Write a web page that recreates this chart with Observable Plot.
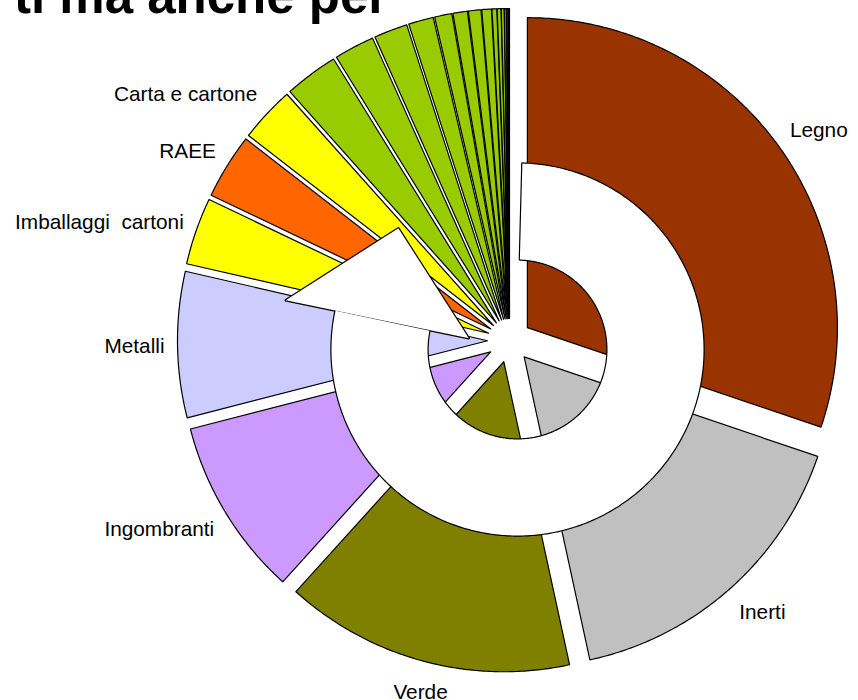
<!DOCTYPE html>
<html><head><meta charset="utf-8">
<script src="https://cdn.jsdelivr.net/npm/d3@7"></script>
<script src="https://cdn.jsdelivr.net/npm/@observablehq/plot@0.6"></script>
<style>
body{margin:0;background:#fff;}
#wrap{position:relative;width:858px;height:700px;overflow:hidden;background:#fff;}
#title{position:absolute;left:14px;top:-30px;font:bold 51px "Liberation Sans",Arial,sans-serif;line-height:51px;white-space:pre;color:#000;}
#chart text{white-space:pre;}
</style></head><body>
<div id="wrap"><div id="chart"></div><div id="title">ti ma anche per</div></div>
<script>
// Categories (clockwise from 12 o'clock); the unlabeled green slices are small fractions
const categories = ["Legno","Inerti","Verde","Ingombranti","Metalli","Imballaggi  cartoni","RAEE","Carta e cartone",
  "","","","","","","","","","","","","","",""];
// Shares (%)
const values = [30.2,16.4,15.1,9.3,7.6,3.5,3.4,2.9,
  2.8,2.1,1.75,1.3,0.9,0.75,0.65,0.5,0.25,0.2,0.15,0.1,0.08,0.05,0.02];
const colors = ["#993300","#C0C0C0","#808000","#CC99FF","#CCCCFF","#FFFF00","#FF6600","#FFFF00",
  "#99CC00","#99CC00","#99CC00","#99CC00","#99CC00","#99CC00","#99CC00","#99CC00","#99CC00","#99CC00","#99CC00","#99CC00","#99CC00","#99CC00","#99CC00"];

// geometry (layout)
const R = 310, EXPLODE = 22, LABEL_R = 345;
const RING = {dx: 8, dy: 9, start: 1.5, end: 282, inner: 90, outer: 186};
const deg = Math.PI / 180;

const pie = d3.pie().sort(null).value(d => d)(values);

const slicePts = [];
pie.forEach((p, i) => {
  const a0 = p.startAngle, a1 = p.endAngle, mid = (a0 + a1) / 2;
  const ox = EXPLODE * Math.sin(mid), oy = -EXPLODE * Math.cos(mid);
  slicePts.push({id: i, x: ox, y: oy, fill: colors[i]});
  const n = Math.max(2, Math.ceil((a1 - a0) / deg * 2));
  for (let k = 0; k <= n; k++) {
    const a = a0 + (a1 - a0) * k / n;
    slicePts.push({id: i, x: ox + R * Math.sin(a), y: oy - R * Math.cos(a), fill: colors[i]});
  }
});

// white ring overlay
const ringPts = [];
{
  const n = 400;
  for (let k = 0; k <= n; k++) {
    const a = (RING.start + (RING.end - RING.start) * k / n) * deg;
    ringPts.push({id: "ring", x: RING.dx + RING.outer * Math.sin(a), y: RING.dy - RING.outer * Math.cos(a)});
  }
  for (let k = n; k >= 0; k--) {
    const a = (RING.start + (RING.end - RING.start) * k / n) * deg;
    ringPts.push({id: "ring", x: RING.dx + RING.inner * Math.sin(a), y: RING.dy - RING.inner * Math.cos(a)});
  }
  // the pointed white flap at the end of the ring
  [[RING.end, 237], [315.5, 170], [RING.end + 1, 50]].forEach(([a, r]) => {
    ringPts.push({id: "flap", x: RING.dx + r * Math.sin(a * deg), y: RING.dy - r * Math.cos(a * deg)});
  });
}

const labels = pie.map((p, i) => {
  const mid = (p.startAngle + p.endAngle) / 2;
  const sx = Math.sin(mid), sy = -Math.cos(mid);
  return {label: categories[i], x: LABEL_R * sx, y: LABEL_R * sy + sy * 18 + 1.5,
    anchor: sx > 0.3 ? "start" : sx < -0.3 ? "end" : "middle"};
}).filter(d => d.label);

const textOpts = {x: "x", y: "y", text: "label", fontSize: 20.8, fontFamily: "Liberation Sans, Arial, sans-serif", fill: "#000"};

const chart = Plot.plot({
  width: 858, height: 700,
  marginTop: 0, marginRight: 0, marginBottom: 0, marginLeft: 0,
  x: {domain: [-509, 349], axis: null},
  y: {domain: [-340, 360], range: [0, 700], axis: null},
  color: {type: "identity"},
  style: {background: "transparent", overflow: "visible"},
  marks: [
    Plot.line(slicePts, {x: "x", y: "y", z: "id", fill: "fill", stroke: "#000", strokeWidth: 1.2, curve: "linear-closed"}),
    Plot.line(ringPts, {x: "x", y: "y", z: "id", fill: "#fff", stroke: "#000", strokeWidth: 2.4, curve: "linear-closed"}),
    Plot.line(ringPts, {x: "x", y: "y", z: "id", fill: "#fff", stroke: "none", curve: "linear-closed"}),
    Plot.text(labels.filter(d => d.anchor === "start"), {...textOpts, textAnchor: "start"}),
    Plot.text(labels.filter(d => d.anchor === "end"), {...textOpts, textAnchor: "end"}),
    Plot.text(labels.filter(d => d.anchor === "middle"), {...textOpts, textAnchor: "middle"})
  ]
});
document.getElementById("chart").appendChild(chart);
</script>
</body></html>
